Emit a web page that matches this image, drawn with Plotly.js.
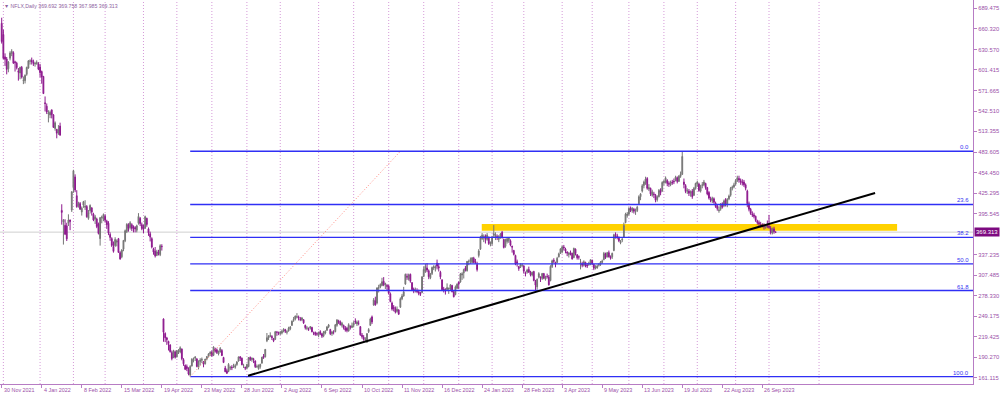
<!DOCTYPE html>
<html><head><meta charset="utf-8">
<script src="https://cdn.plot.ly/plotly-3.0.1.min.js"></script>
<style>html,body{margin:0;padding:0;background:#fff;}#chart{width:1000px;height:395px;}</style>
</head><body><div id="chart"></div>
<script>
// ---- header ----
const symbolTitle = "NFLX,Daily";
const headerQuote = ["369.692", "369.758", "367.985", "369.313"];

// ---- daily candles, one bar per trading day, 30 Nov 2021 .. 6 Oct 2023 ----
const openP = [
668.0,
652,620,617,603,618,625,626,613,611,600,597,605,586,586,595,604,614,615,613,610,610,610,
605.6,599,592,554.3,549.5,538.5,536.9,544.3,537.1,517.6,516.3,511.1,521,400.4,383.9,379.1,378.3,382.1,386.8,401,
432.9,448.3,421.4,407.3,410.2,398,408,405,406,389,400,404,395,388,388,381,360,390,388,
392,385,382,366,360,348,350,355,360,340,334,345,357,370,380,376,380,376,376,372,382,389,380,
376,375,389,374,367,360,345,342,336,341,337,349,245.2,224.5,218,213,208,197,190,198,
191,199,198,202,187,179,177,173,165,178,186,189,188,176,184,186,184,181,188,192,195,
198,193,202,201,195,198,200,190,175,171,170,175,176,178,176,180,185,191,189,178,176,
175,177,190,187,188,185,177,174,177,182,192,191,214,218,220,220,217,216,226,225,
224,225,228,230,226,228,231,236,243,245,248,248,245,244,244,236,232,231,232,233,225,226,224,
222,227,224,221,225,229,234,230,224,226,227,236,242,241,236,236,232,232,228,234,233,
236,242,238,239,234,222,219,216,212,227,236,248,265,271,268,289,291,293,299,294,293,
292,281,268,262,260,256,258,262,274,278,295,306,302,309,297,288,285,286,284,282,283,
306,313,318,314,304,310,318,318,325,320,312,301,288,285,287,288,288,293,284,280,289,
298,298,308,311,318,314,327,328,326,332,327,323,336,345,360,361,364,359,362,353,
353,365,362,363,359,361,369,359,349,356,357,357,349,343,336,327,320,320,322,
321,311,312,316,312,308,313,299,291,305,305,303,310,302,306,305,300,320,329,326,326,334,339,
341,348,345,341,337,340,339,333,345,337,334,324,324,322,326,322,323,324,
329,323,318,318,322,323,326,330,338,334,340,334,334,343,366,364,362,354,358,362,383,393,
395,404,400,402,399,400,410,420,428,436,439,446,431,432,422,424,422,416,420,429,428,
440,441,443,439,437,441,442,443,447,442,449,452,441,436,428,428,425,428,422,432,
438,438,428,436,437,439,433,426,417,414,417,411,407,400,402,410,407,416,409,417,422,432,434,
438,443,446,443,441,441,437,428,410,402,395,394,392,385,383,380,380,379,376,380,
378,375,368,374,369.692
];
const highP = [
676,
659,625,619.8,614,628,631,628,614.5,613,604,606,607,592,595,606,615.5,616.5,619,616,613,615,612.5,
610,600.4,592.8,563.4,553.4,543.7,543.2,544.3,538,527.7,517,522.4,525.9,409.2,387.3,387.7,382.7,394.8,387,427.7,
458.5,452,429.3,412.8,412.4,406,414,415,408,401,409,405,397,394,390,383,391,393,396,
395,387,385,369,362,356,362,359,361,342,345,358,373,382,382,385,382,379,378,380,396.5,391,383,
380,393,390,376,370,362,347,348,344,344,352,352,245.9,226,219.5,214,209,200,201,200,
200.5,202,206,203,189,180,180,176,179,189,190,192,189,186,189,190,185,188,192,196,199,
200,206,204,203,200,205,202,191,178,174,182,178,179,181,181,185,191,192,190,181,177,
181,190.5,191.5,190,189.5,186,180,180,181,191,195,202,225,222,226,222,218,228,228,227,
228,230,232,231,229,234,235,243,248,250,253.5,250,248,248,245,237,235,233,235,234,227,227,226,
227,229,225,228,229,235,238,231,228,229,238,245,244,243,241,237,235,234,239,236,240,
242,246,243,243,235,225,222,219,225,232,247,250,275,277,290,294,296,304,305,297,295,
294,283,270,265,263,263,259,276,281,291,310,310,310,310,298,290,290,289,287,284,306,
320,324,325,316,311,320,322,322,330,325,314,302,291,289,296,290,295,294,286,293,296,
298.5,311,312,317,321,328,330,333,333,334,331,327,345,364,368,366,366,368,363,356,
364,379.4,369,366,365,368,371,360,360,361,362,359,350,344,337,330,321,325,325,
322,313,317,320,314,313,314,301,303,312,306,311,311,307,310,308,322,330,332,327,334,340,346,
350,351,347,342,341,343,340,347,346,338,336,331,327,329,327,325,327,330,
330,324,322,323,325,328,330,341,340,341,343,336,340,367,369,367,363,358,362,383,397,398,
405,406,405,404,403,407,422,425,438,443,448.6,448,438,433,430,427,424,422,431,432,442,
444,449,445,442,443,444,446,450,449,451,456,485,446,438,432,431,429,431,434,440,
443,440,437,441,444,440,434,428,420,420,419,413,409,406,411,412,416,418,418,423,434,436,440,
445,450,450,446,445,444,439,430,413,404,399,397,393,387,386,384,382,382,381,386,
394,378,376,377,369.758
];
const lowP = [
639,
616.5,607,595,598,615,621,610,599,602,586,588,589,581,582,593,603,609,609,607,606,609,601,
590.6,581.6,566.9,542,538.2,526.3,532.3,532,518.3,514.4,503.5,508.5,507,380,351.5,365.1,356.6,378.1,372.1,398.2,
425.5,426.5,404.3,404.4,401,393,404,401,390,387,396,393,385,381,375,366,350,382,385,
383,374,365,357,348,340,348,349,340,329.8,332,342,355,368,370,373,371,369,369,369,380,378,372,
368,374,377,364,356,346,337,333,335,336,335,343,212.5,212,208,200,197,186,189,188.5,
190,195,196,186,178,172,170.5,164.5,162.7,177,183,185,176,173,179,182,176,180,186,190,192,
191,192,197,195,193,197,192,182,169,166.5,169,172,172,175,174,178,184,185,179,175,172,
173,176,185,184,182,175,175,172.5,174,181,188,190,212,215,219,215,212,215,221,222,
222,223,226,225,223,227,229,235,241,243,246,243,242,242,238,230,229,228,230,226,222,221,221,
219,222,218,219,223,228,232,222,221,223,226,234,238,236,233,230,227,226,227,230,232,
233,238,235,236,221,217,214,213,211,225,235,238,264,264,266,283,289,292,292,288,286,
280,269,257,256,253,254,251,261,272,277,294,301,300,297,285,282,283,282,279,278,282,
305,311,312,302,302,308,315,313,316,313,302,285,283,280,285,281,286,283,276,279,288,
288,297,301,303,313,313,322,324,325,325,324,313,333,344,358,355,353,357,351,349,
350,362,358,358,355,360,360,346,347,353,354,349,340,336,322,320,314,318,319,
310,306,310,311,306,306,299,285.3,287,303,298,301,302,300,303,293,299,318,325,319,325,333,338,
339,343,339,335,333,336,330,332,336,330,330,316,319,320,319,318,321,322,
322,315,316,317,320,321,324,329,331,333,333,330,331,342,360,359,355,352,355,361,382,390,
393,398,397,396,394,398,409,415,426,432,437,430,428,421,420,418,412,413,419,422,427,
436,439,435,434,435,437,438,442,439,441,447,451,432,425,424,421,420,417,421,430,
434,427,426,432,435,430,422,416,412,411,410,404,400,397,400,403,405,406,405,415,420,429,432,
436,441,440,437,436,434,429,405,399,394,391,389,384,380,378,376,376,373,374,375,
374,366,366,367,367.985
];
const closeP = [
641.9,
617.8,616.5,602.1,612.7,625.6,628.1,611.0,611.7,604.6,598.0,605.0,591.1,586.7,593.7,604.9,614.2,614.1,613.1,610.7,610.5,612.1,602.4,
597.4,591.2,567.5,553.3,541.1,539.9,540.8,537.2,519.2,525.7,510.8,515.9,508.3,397.5,387.2,366.4,359.7,386.7,384.4,427.1,
457.1,429.5,405.6,410.2,402.1,403.5,412.9,406.3,391.3,396.6,407.5,398.1,386.7,391.3,377.4,367.5,390.0,390.8,394.5,
386.2,380.0,368.1,361.7,350.3,341.8,358.8,356.8,340.3,331.0,343.8,357.5,371.4,380.6,374.6,382.9,374.5,375.7,373.9,378.5,391.8,381.5,374.6,
373.5,391.5,380.2,368.4,362.2,348.0,340.8,335.4,341.1,338.6,350.0,348.6,226.2,218.2,215.5,209.9,198.4,188.5,199.5,190.4,
199.9,199.3,204.0,188.3,181.0,173.1,174.0,166.4,177.2,187.6,186.5,190.6,177.2,183.5,186.4,187.4,180.3,187.8,191.4,195.2,197.4,
192.9,205.1,199.0,197.1,198.6,202.8,192.8,182.9,169.7,167.5,180.1,175.4,175.5,178.1,178.4,183.6,190.9,189.1,179.6,178.4,174.9,
180.0,190.0,187.0,189.3,186.9,176.9,177.1,178.8,180.2,190.3,190.0,201.6,218.3,220.4,221.4,218.5,213.9,226.8,226.0,224.9,
226.2,227.6,230.1,227.4,226.8,231.8,233.5,241.9,244.5,249.3,248.2,246.8,244.8,246.4,239.5,232.6,232.1,230.4,234.0,226.8,224.9,222.9,223.6,
225.9,224.1,220.5,226.7,227.5,233.6,236.5,223.9,226.5,226.0,236.7,243.6,240.7,236.7,238.9,232.6,229.3,228.5,237.0,233.8,235.4,
239.0,240.7,240.7,238.9,222.4,219.9,215.9,216.0,224.0,230.0,245.1,240.9,272.4,265.4,289.6,290.0,294.5,298.4,293.9,295.7,291.9,
282.0,270.0,259.2,260.0,255.1,259.0,251.9,274.0,278.0,283.9,309.0,305.0,308.4,299.0,287.0,285.0,286.0,284.4,282.0,280.5,305.5,
316.0,320.4,315.0,305.6,309.0,318.8,320.0,319.8,320.7,318.0,305.4,287.0,286.2,285.0,290.0,288.9,294.0,284.2,276.9,291.1,294.9,
295.0,309.4,309.7,315.6,315.2,327.5,327.3,330.1,332.8,326.0,326.0,315.8,342.5,362.0,364.9,363.0,359.0,365.0,353.0,353.9,
362.0,366.9,365.9,361.5,363.0,366.8,362.5,347.4,358.6,360.0,361.4,350.7,348.0,337.5,323.7,325.1,317.2,323.0,322.1,
313.5,310.1,315.2,312.0,308.5,311.8,300.1,293.5,302.0,310.0,303.8,310.1,303.5,305.1,305.8,293.9,320.4,328.4,327.7,323.5,332.0,338.4,345.5,
348.3,346.8,342.4,339.3,339.0,338.2,331.0,346.2,338.6,332.7,333.7,325.4,322.0,327.0,321.0,321.0,325.0,329.9,
324.1,317.6,319.3,320.8,322.8,326.4,328.0,339.0,333.0,339.9,334.0,332.0,339.0,365.4,365.5,363.0,357.0,356.0,359.0,378.9,395.0,395.2,
403.1,400.5,403.5,399.3,399.8,405.0,420.0,424.0,435.7,440.9,445.3,432.0,433.0,424.0,427.0,423.0,415.0,420.0,429.0,426.0,440.5,
442.0,447.0,439.0,438.0,440.6,440.0,441.5,448.0,441.7,449.3,452.0,477.6,437.4,427.5,428.4,424.9,426.4,420.0,432.0,439.0,
441.0,429.0,435.0,437.0,441.0,433.0,424.0,418.0,415.0,418.0,412.0,406.0,403.0,401.0,409.0,405.0,414.0,408.0,416.0,421.0,432.0,434.0,437.0,
443.0,447.0,444.0,441.0,440.0,437.0,432.0,410.0,402.0,396.0,394.0,392.0,386.0,383.0,381.0,380.0,379.0,377.0,378.0,377.6,
376.0,368.5,374.0,370.0,369.313
];

// ---- axes ----
const xTickBars = [0,24,48,72,96,120,144,168,192,216,240,264,288,312,336,360,384,408,432,456];
const xTickLabels = ["30 Nov 2021","4 Jan 2022","8 Feb 2022","15 Mar 2022","19 Apr 2022","23 May 2022",
  "28 Jun 2022","2 Aug 2022","6 Sep 2022","10 Oct 2022","11 Nov 2022","16 Dec 2022","24 Jan 2023",
  "28 Feb 2023","3 Apr 2023","9 May 2023","13 Jun 2023","19 Jul 2023","22 Aug 2023","26 Sep 2023"];
const monthStartBars = [1,23,43,62,85,105,126,147,167,190,211,232,253,274,294,313,336,354,376,397,417,440,460,490];
const yTickValues = [689.475,660.320,630.570,601.415,571.665,542.510,513.355,483.605,454.450,425.295,
  395.545,337.235,307.485,278.330,249.175,219.425,190.270,161.115];
const yTickLabels = ["689.475","660.320","630.570","601.415","571.665","542.510","513.355","483.605","454.450",
  "425.295","395.545","337.235","307.485","278.330","249.175","219.425","190.270","161.115"];

// ---- drawings ----
const fibLevels = [0.0, 23.6, 38.2, 50.0, 61.8, 100.0];
const fibLabels = ["0.0", "23.6", "38.2", "50.0", "61.8", "100.0"];
const fibSwing = {lowBar: 113, lowPrice: 162.71, highBar: 239, highPrice: 485.0};
const trendBars = [147.7, 523.6];
const trendPrices = [164.0, 425.3];
const zoneBars = [287.8, 536.8];
const zonePrices = [371.2, 380.8];
const lastPrice = 369.313;

const X_RANGE = [-1.02, 582.3];
const Y_RANGE = [152.1, 701.35];
const PURPLE_TXT = '#9b4fa8';
const PURPLE_LINE = '#b77cc4';
const FONT = 'Liberation Sans, Arial, sans-serif';

const bars = closeP.map((_, i) => i);

const candles = {
  type: 'candlestick', x: bars, open: openP, high: highP, low: lowP, close: closeP,
  increasing: {line: {color: '#767676', width: 1}, fillcolor: '#767676'},
  decreasing: {line: {color: '#8e1a8e', width: 1}, fillcolor: '#8e1a8e'},
  whiskerwidth: 0, hoverinfo: 'skip', showlegend: false
};

const shapes = [];
monthStartBars.forEach(b => shapes.push({type: 'line', xref: 'x', yref: 'paper', x0: b, x1: b, y0: 0, y1: 1,
  line: {color: '#d59ad8', width: 1, dash: '1px,2px'}, layer: 'below'}));
shapes.push({type: 'line', xref: 'paper', yref: 'y', x0: 0, x1: 1, y0: lastPrice, y1: lastPrice,
  line: {color: '#cfcfcf', width: 1}, layer: 'below'});
shapes.push({type: 'rect', xref: 'x', yref: 'y', x0: zoneBars[0], x1: zoneBars[1], y0: zonePrices[0], y1: zonePrices[1],
  fillcolor: '#FFD200', line: {width: 0}, layer: 'below'});
const fibPrices = fibLevels.map(l => fibSwing.highPrice - (fibSwing.highPrice - fibSwing.lowPrice) * l / 100);
fibPrices.forEach(p => shapes.push({type: 'line', xref: 'x', yref: 'y', x0: fibSwing.lowBar, x1: X_RANGE[1], y0: p, y1: p,
  line: {color: '#2f2ff5', width: 1.4}, layer: 'above'}));
shapes.push({type: 'line', xref: 'x', yref: 'y', x0: fibSwing.lowBar, y0: fibSwing.lowPrice, x1: fibSwing.highBar, y1: fibSwing.highPrice,
  line: {color: '#ff8a80', width: 1, dash: '1px,2px'}, layer: 'above'});
shapes.push({type: 'line', xref: 'x', yref: 'y', x0: trendBars[0], y0: trendPrices[0], x1: trendBars[1], y1: trendPrices[1],
  line: {color: '#000000', width: 2}, layer: 'above'});

const annotations = [];
fibPrices.forEach((p, i) => annotations.push({xref: 'paper', yref: 'y', x: 0.998, y: p, xanchor: 'right', yanchor: 'bottom',
  text: fibLabels[i], showarrow: false, font: {family: FONT, size: 6, color: '#3535f0'}, yshift: -1}));
annotations.push({xref: 'paper', yref: 'y', x: 1, y: lastPrice, xanchor: 'left', yanchor: 'middle', xshift: 1,
  text: lastPrice.toFixed(3), showarrow: false, bgcolor: '#7d0a80', borderpad: 1,
  font: {family: FONT, size: 6, color: '#ffffff'}});
annotations.push({xref: 'paper', yref: 'paper', x: 0, y: 1, xanchor: 'left', yanchor: 'top', xshift: 2, yshift: -1,
  text: '\u25BC ' + symbolTitle + ' ' + headerQuote.join(' '), showarrow: false,
  font: {family: FONT, size: 5.2, color: '#8e62a0'}});
// date labels, left-aligned at their tick like the terminal draws them
xTickBars.forEach((b, i) => annotations.push({xref: 'x', yref: 'paper', x: b, y: 0, xanchor: 'left', yanchor: 'top',
  xshift: 0, yshift: -1, text: xTickLabels[i], showarrow: false, font: {family: FONT, size: 5.4, color: PURPLE_TXT}}));

const layout = {
  width: 1000, height: 395,
  margin: {l: 0, r: 27, t: 0, b: 11, pad: 0},
  paper_bgcolor: '#ffffff', plot_bgcolor: '#ffffff',
  showlegend: false, hovermode: false, dragmode: false,
  xaxis: {
    range: X_RANGE, rangeslider: {visible: false}, showgrid: false, zeroline: false,
    showline: true, mirror: true, linecolor: PURPLE_LINE, linewidth: 1,
    tickmode: 'array', tickvals: xTickBars, showticklabels: false,
    ticks: 'outside', ticklen: 3, tickcolor: PURPLE_LINE, fixedrange: true
  },
  yaxis: {
    range: Y_RANGE, side: 'right', showgrid: false, zeroline: false,
    showline: true, linecolor: PURPLE_LINE, linewidth: 1,
    tickmode: 'array', tickvals: yTickValues, ticktext: yTickLabels,
    ticks: 'outside', ticklen: 3, tickcolor: PURPLE_LINE,
    tickfont: {family: FONT, size: 5.8, color: PURPLE_TXT}, fixedrange: true
  },
  shapes: shapes, annotations: annotations
};

Plotly.newPlot('chart', [candles], layout, {displayModeBar: false, staticPlot: true});
</script>
</body></html>
